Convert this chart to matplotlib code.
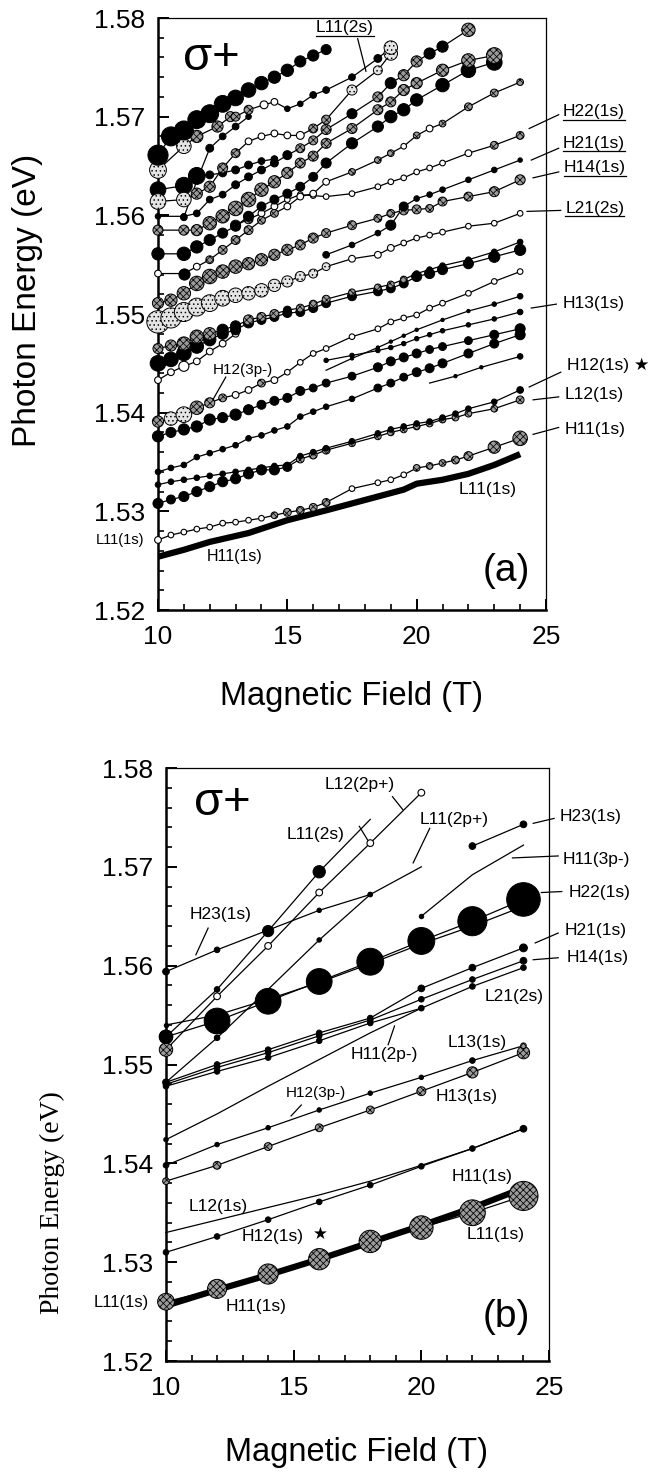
import matplotlib
matplotlib.use("Agg")
import matplotlib.pyplot as plt
from matplotlib.lines import Line2D
from matplotlib.ticker import MultipleLocator, FormatStrFormatter
from matplotlib.transforms import IdentityTransform

plt.rcParams['font.family'] = ['Liberation Sans', 'DejaVu Sans']
plt.rcParams['hatch.linewidth'] = 0.55
plt.rcParams['hatch.color'] = 'black'

# ---------------- panel (a) data ----------------
# marker kinds: k = black, h = cross-hatched, d = light dotted, o = open
xa25 = [10, 10.5, 11, 11.5, 12, 12.5, 13, 13.5, 14, 14.5, 15, 15.5, 16, 16.5,
        17.5, 18.5, 19, 19.5, 20, 20.5, 21, 21.5, 22, 23, 24]
xa24 = [10, 10.5, 11, 11.5, 12, 12.5, 13, 13.5, 14, 14.5, 15, 15.5, 16, 16.5,
        17.5, 18.5, 19, 19.5, 20, 20.5, 21, 22, 23, 24]
xa21 = [10, 11, 11.5, 12, 12.5, 13, 13.5, 14, 14.5, 15, 15.5, 16, 16.5, 17.5,
        18.5, 19, 19.5, 20, 21, 22, 23]

a1_x = [10, 10.5, 11, 11.5, 12, 12.5, 13, 13.5, 14, 14.5, 15, 15.5, 16, 16.5]
a1_y = [1.5661, 1.5680, 1.5686, 1.5697, 1.5703, 1.5713, 1.5719, 1.5727, 1.5734, 1.5740, 1.5747, 1.5756, 1.5762, 1.5768]
a1_d = [18, 17, 17, 16, 16, 15, 14, 13, 12, 11, 11, 10, 10, 9]
a1_k = "kkkkkkkkkkkkkk"

a2_x = [10, 11, 11.5, 12.3, 12.8, 13, 13.5, 14.1, 14.5, 15, 15.5, 16, 16.5, 17.5, 18.5, 19]
a2_y = [1.5646, 1.5670, 1.5680, 1.5690, 1.5700, 1.5700, 1.5707, 1.5712, 1.5715, 1.5708, 1.5713, 1.5722, 1.5727, 1.5740, 1.5759, 1.5770]
a2_d = [15, 13, 11, 10, 9, 8, 8, 7, 6, 5, 5, 6, 6, 6, 7, 12]
a2_k = "ddhhhhhookkkkkkd"

a3_x = [10, 11, 11.5, 12, 12.5, 13, 13.5, 14, 14.5, 15, 15.5, 16, 16.5, 17.5, 18.5, 19]
a3_y = [1.5614, 1.5616, 1.5622, 1.5629, 1.5648, 1.5663, 1.5675, 1.5680, 1.5683, 1.5681, 1.5681, 1.5688, 1.5697, 1.5727, 1.5747, 1.5764]
a3_d = [14, 13, 10, 10, 9, 8, 6, 6, 6, 6, 7, 8, 8, 9, 8, 12]
a3_k = "ddhhhhooooohhddd"

a4_x = [10, 11, 11.5, 12, 12.5, 13, 13.5, 14, 14.5]
a4_y = [1.5626, 1.5630, 1.5640, 1.5641, 1.5643, 1.5646, 1.5651, 1.5655, 1.5657]
a4_d = [14, 15, 15, 7, 7, 7, 7, 6, 6]
a4_k = "kkkkkkkkk"

a5_x = [11, 11.5, 12, 12.5, 13, 13.5]
a5_y = [1.5598, 1.5635, 1.5668, 1.5680, 1.5690, 1.5700]
a5_d = [6, 6, 7, 6, 6, 5]
a5_k = "kkkkkk"

a6_x = [10, 11, 11.5, 12, 12.5, 13, 13.5, 14, 14.5, 15, 15.5, 16, 16.5, 17.5, 18.5, 19, 19.5, 20, 20.5, 21, 22]
a6_y = [1.5599, 1.5599, 1.5602, 1.5616, 1.5621, 1.5631, 1.5639, 1.5646, 1.5653, 1.5661, 1.5668, 1.5676, 1.5687,
        1.5703, 1.5720, 1.5734, 1.5742, 1.5756, 1.5764, 1.5771, 1.5788]
a6_d = [5, 5, 6, 6, 6, 7, 7, 7, 7, 8, 8, 8, 9, 9, 9, 10, 10, 10, 10, 10, 12]
a6_k = "kkkkkkkkkkhhhkhkhhkkh"

a7_y = [1.5585, 1.5585, 1.5585, 1.5592, 1.5599, 1.5607, 1.5616, 1.5626, 1.5634, 1.5643, 1.5653, 1.5660, 1.5673,
        1.5688, 1.5707, 1.5715, 1.5727, 1.5734, 1.5747, 1.5757, 1.5762]
a7_d = [9, 9, 10, 12, 12, 13, 13, 12, 11, 10, 9, 9, 9, 9, 9, 9, 10, 10, 11, 12, 14]
a7_k = "hhhhhhhhhhhhhhhhhhhhh"

a8_y = [1.5561, 1.5561, 1.5568, 1.5575, 1.5582, 1.5589, 1.5599, 1.5609, 1.5616, 1.5622, 1.5629, 1.5639, 1.5653,
        1.5673, 1.5690, 1.5700, 1.5707, 1.5717, 1.5732, 1.5747, 1.5755]
a8_d = [11, 12, 11, 10, 9, 9, 9, 8, 8, 8, 8, 8, 9, 10, 10, 11, 11, 11, 12, 13, 14]
a8_k = "kkkkkkkkkkkkkkkkkkkkk"

a9_x = [10, 11, 11.5, 12, 12.5, 13, 13.5, 14, 14.5, 15, 15.5, 16, 16.5, 17.5, 18.5, 19, 19.5, 20, 20.5, 21, 22, 23, 24]
a9_y = [1.5541, 1.5541, 1.5548, 1.5555, 1.5565, 1.5575, 1.5585, 1.5595, 1.5602, 1.5609, 1.5619, 1.5622, 1.5634,
        1.5644, 1.5656, 1.5663, 1.5670, 1.5681, 1.5688, 1.5693, 1.5710, 1.5724, 1.5735]
a9_d = [6, 10, 6, 7, 8, 8, 8, 7, 7, 6, 6, 6, 6, 6, 6, 6, 5, 6, 6, 6, 7, 7, 6]
a9_k = "okohhhhhhoooohhhohohhhh"

a10_x = [13, 13.5, 14, 14.5, 15, 15.5, 16, 16.5, 17.5, 18.5, 19, 19.5, 20, 20.5, 21, 22, 23, 24]
a10_y = [1.5590, 1.5596, 1.5602, 1.5609, 1.5616, 1.5621, 1.5620, 1.5619, 1.5622, 1.5629, 1.5634, 1.5638, 1.5644,
         1.5648, 1.5653, 1.5663, 1.5671, 1.5681]
a10_d = [9, 8, 6, 6, 5, 5, 5, 5, 5, 5, 5, 5, 5, 5, 5, 6, 7, 7]
a10_k = "hhoooooooooooooohh"

a11_x = [16.5, 17.5, 18.5, 19, 19.5, 20, 20.5, 21, 22, 23, 24]
a11_y = [1.5560, 1.5570, 1.5582, 1.5590, 1.5609, 1.5617, 1.5621, 1.5626, 1.5636, 1.5646, 1.5656]
a11_d = [6, 5, 5, 9, 8, 5, 5, 5, 5, 5, 4]
a11_k = "kkkkkkkkkkk"

a12_y = [1.5511, 1.5514, 1.5521, 1.5531, 1.5538, 1.5543, 1.5548, 1.5551, 1.5555, 1.5560, 1.5565, 1.5570, 1.5577,
         1.5582, 1.5590, 1.5597, 1.5602, 1.5605, 1.5606, 1.5607, 1.5614, 1.5619, 1.5624, 1.5636]
a12_d = [10, 11, 12, 13, 13, 12, 12, 11, 11, 10, 10, 9, 9, 8, 8, 7, 7, 8, 8, 7, 8, 8, 9, 9]
a12_k = "hhhhhhhhhhhhhhhhhhhhhhhh"

a13_y = [1.5492, 1.5496, 1.5502, 1.5507, 1.5511, 1.5516, 1.5519, 1.5521, 1.5524, 1.5529, 1.5533, 1.5538, 1.5541,
         1.5548, 1.5556, 1.5560, 1.5567, 1.5572, 1.5577, 1.5580, 1.5583, 1.5589, 1.5592, 1.5602]
a13_d = [20, 18, 17, 16, 15, 14, 13, 12, 12, 11, 10, 9, 8, 7, 6, 6, 6, 5, 5, 5, 5, 5, 5, 5]
a13_k = "ddddddddddddddoooooooooo"

a14_y = [1.5465, 1.5468, 1.5470, 1.5477, 1.5480, 1.5484, 1.5488, 1.5494, 1.5497, 1.5500, 1.5504, 1.5506, 1.5510,
         1.5515, 1.5522, 1.5527, 1.5530, 1.5535, 1.5541, 1.5545, 1.5549, 1.5555, 1.5563, 1.5573]
a14_d = [9, 10, 12, 12, 11, 10, 9, 9, 8, 8, 7, 7, 7, 7, 6, 6, 6, 6, 5, 5, 5, 5, 5, 5]
a14_k = "hhhhhkkhhhkhhhhhhhkkkkkk"

a15_y = [1.5450, 1.5454, 1.5460, 1.5467, 1.5474, 1.5480, 1.5484, 1.5491, 1.5494, 1.5497, 1.5501, 1.5502, 1.5506,
         1.5511, 1.5518, 1.5523, 1.5526, 1.5531, 1.5538, 1.5541, 1.5545, 1.5551, 1.5558, 1.5565]
a15_d = [14, 13, 13, 12, 11, 10, 9, 9, 8, 8, 8, 8, 8, 8, 8, 8, 8, 8, 9, 9, 9, 9, 10, 10]
a15_k = "kkkkkkkkkkkkkkkkkkkkkkkk"

a16_x = [10, 10.5, 11, 11.5, 12, 12.5, 13]
a16_y = [1.5433, 1.5441, 1.5447, 1.5452, 1.5462, 1.5470, 1.5480]
a16_d = [6, 6, 9, 6, 6, 6, 6]
a16_k = "ooooooo"

a17_y = [1.5391, 1.5394, 1.5398, 1.5405, 1.5410, 1.5415, 1.5418, 1.5423, 1.5430, 1.5433, 1.5441, 1.5451, 1.5460,
         1.5465, 1.5477, 1.5485, 1.5492, 1.5496, 1.5499, 1.5506, 1.5511, 1.5521, 1.5533, 1.5543]
a17_d = [10, 12, 14, 12, 9, 7, 6, 6, 7, 6, 5, 5, 5, 5, 5, 5, 5, 5, 5, 5, 5, 5, 5, 5]
a17_k = "hddhhhoohooooooooooooooo"

a18_y = [1.5376, 1.5380, 1.5383, 1.5386, 1.5393, 1.5395, 1.5398, 1.5403, 1.5408, 1.5412, 1.5415, 1.5422, 1.5425,
         1.5430, 1.5437, 1.5446, 1.5452, 1.5456, 1.5460, 1.5464, 1.5467, 1.5473, 1.5479, 1.5485]
a18_d = [10, 9, 10, 10, 10, 9, 10, 9, 8, 8, 8, 8, 7, 7, 7, 8, 8, 8, 8, 7, 7, 7, 8, 9]
a18_k = "kkkkkkkkkkkkkkkkkkkkkkkk"

a19_y = [1.5340, 1.5344, 1.5347, 1.5355, 1.5359, 1.5363, 1.5367, 1.5374, 1.5377, 1.5382, 1.5386, 1.5396, 1.5401,
         1.5406, 1.5414, 1.5425, 1.5430, 1.5436, 1.5441, 1.5445, 1.5450, 1.5460, 1.5470, 1.5479]
a19_d = [5, 5, 5, 5, 5, 5, 5, 5, 5, 5, 5, 5, 5, 5, 5, 7, 7, 7, 8, 8, 8, 8, 8, 9]
a19_k = "kkkkkkkkkkkkkkkkkkkkkkkk"

a20_y = [1.5327, 1.5330, 1.5332, 1.5334, 1.5336, 1.5338, 1.5340, 1.5342, 1.5344, 1.5346, 1.5347, 1.5356, 1.5360,
         1.5364, 1.5371, 1.5379, 1.5383, 1.5386, 1.5389, 1.5391, 1.5395, 1.5399, 1.5404, 1.5411, 1.5423]
a20_d = [5, 5, 5, 5, 5, 5, 5, 5, 5, 5, 5, 5, 5, 5, 5, 5, 5, 5, 5, 5, 5, 5, 5, 5, 6]
a20_k = "kkkkkkkkkkkkkkkkkkkkkkkkk"

a21_y = [1.5308, 1.5312, 1.5315, 1.5320, 1.5325, 1.5330, 1.5333, 1.5338, 1.5342, 1.5342, 1.5345, 1.5353, 1.5357,
         1.5362, 1.5369, 1.5376, 1.5380, 1.5383, 1.5386, 1.5389, 1.5393, 1.5395, 1.5399, 1.5404, 1.5413]
a21_d = [9, 8, 9, 9, 9, 9, 9, 9, 9, 9, 8, 7, 7, 7, 6, 6, 6, 6, 6, 6, 6, 6, 6, 6, 7]
a21_k = "kkkkkkkkkkkhhhhhhhhhhhhhh"

a22_y = [1.5271, 1.5276, 1.5279, 1.5282, 1.5284, 1.5288, 1.5289, 1.5291, 1.5293, 1.5296, 1.5299, 1.5301, 1.5304,
         1.5309, 1.5323, 1.5329, 1.5332, 1.5337, 1.5344, 1.5346, 1.5349, 1.5352, 1.5356, 1.5365, 1.5374]
a22_d = [6, 5, 5, 5, 5, 5, 5, 5, 5, 6, 7, 7, 7, 7, 5, 5, 5, 5, 6, 6, 6, 7, 8, 11, 13]
a22_k = "ooooooooohhhhhoooohhhhhhh"

a23_x = [16.5, 17.5, 18.5, 19, 19.5, 20, 21, 22, 23, 24]
a23_y = [1.5443, 1.5455, 1.5466, 1.5472, 1.5478, 1.5484, 1.5494, 1.5503, 1.5510, 1.5518]
a23_d = [0, 3, 3, 3, 3, 3, 3, 3, 4, 5]
a23_k = "kkkkkkkkkk"

a24_x = [16.5, 17.5, 18.5, 19, 19.5, 20, 20.5, 21, 22, 23, 24]
a24_y = [1.5453, 1.5458, 1.5463, 1.5466, 1.5470, 1.5475, 1.5479, 1.5483, 1.5489, 1.5495, 1.5502]
a24_d = [4, 4, 4, 4, 4, 4, 4, 4, 4, 4, 5]
a24_k = "kkkkkkkkkkk"

a25_x = [20.5, 21.5, 22.5, 24]
a25_y = [1.5430, 1.5437, 1.5446, 1.5457]
a25_d = [0, 3, 3, 5]
a25_k = "kkkk"

# thick L11(1s) line
a_thick_x = [10, 11, 12, 13.5, 15, 16.5, 18.5, 19.5, 20, 21, 22, 23, 24]
a_thick_y = [1.5254, 1.5261, 1.5269, 1.5278, 1.5291, 1.5301, 1.5315, 1.5322, 1.5328, 1.5332, 1.5338, 1.5347, 1.5358]

# ---------------- panel (b) data ----------------
xb8 = [10, 12, 14, 16, 18, 20, 22, 24]

b_h23lo_x = [10, 12, 14, 16, 18]
b_h23lo_y = [1.5594, 1.5616, 1.5636, 1.5656, 1.5672]
b_h23lo_d = [6, 5, 0, 4, 4]

b_l112s_x = [10, 12, 14, 16, 18]
b_l112s_y = [1.5528, 1.5576, 1.5635, 1.5695, 1.5748]
b_l112s_d = [12, 5, 10, 11, 0]

b_l122p_x = [10, 12, 14, 16, 18, 20]
b_l122p_y = [1.5515, 1.5569, 1.5620, 1.5674, 1.5724, 1.5775]
b_l122p_d = [12, 6, 6, 6, 6, 6]

b_l112p_x = [10, 12, 14, 16, 18, 20]
b_l112p_y = [1.5482, 1.5527, 1.5576, 1.5626, 1.5672, 1.5700]
b_l112p_d = [0, 5, 0, 4, 4, 0]

b_h113p_x = [20, 22, 24]
b_h113p_y = [1.5650, 1.5692, 1.5722]
b_h113p_d = [4, 0, 0]

b_h23hi_x = [22, 24]
b_h23hi_y = [1.5721, 1.5743]
b_h23hi_d = [6, 6]

b_h22_y = [1.5528, 1.5544, 1.5564, 1.5584, 1.5604, 1.5625, 1.5645, 1.5667]
b_h22_d = [12, 23, 23, 23, 24, 24, 26, 30]
b_h22b_y = [1.5540, 1.5550, 1.5566, 1.5583, 1.5602, 1.5622, 1.5640, 1.5660]

b_h21_y = [1.5482, 1.5500, 1.5515, 1.5532, 1.5547, 1.5577, 1.5598, 1.5618]
b_h21_d = [6, 5, 5, 5, 5, 6, 6, 7]
b_h14_y = [1.5480, 1.5497, 1.5512, 1.5529, 1.5545, 1.5566, 1.5586, 1.5605]
b_h14_d = [5, 5, 5, 5, 5, 5, 5, 6]
b_l21_y = [1.5478, 1.5493, 1.5507, 1.5524, 1.5542, 1.5557, 1.5579, 1.5598]
b_l21_d = [5, 5, 5, 5, 5, 5, 5, 5]

b_h112p_x = [10, 12, 14, 16, 18, 20]
b_h112p_y = [1.5424, 1.5450, 1.5478, 1.5505, 1.5532, 1.5557]
b_h112p_d = [4, 0, 0, 0, 0, 4]

b_h123p_y = [1.5398, 1.5419, 1.5436, 1.5454, 1.5471, 1.5487, 1.5504, 1.5519]
b_h123p_d = [5, 4, 4, 4, 4, 4, 5, 5]
b_h13_y = [1.5382, 1.5398, 1.5417, 1.5436, 1.5454, 1.5473, 1.5492, 1.5512]
b_h13_d = [6, 7, 7, 7, 7, 8, 10, 11]

b_l121s_x = [10, 16, 18, 20, 22, 24]
b_l121s_y = [1.5330, 1.5368, 1.5382, 1.5398, 1.5415, 1.5435]
b_l121s_d = [0, 0, 0, 0, 0, 0]
b_h121s_y = [1.5310, 1.5326, 1.5343, 1.5361, 1.5378, 1.5397, 1.5415, 1.5435]
b_h121s_d = [5, 5, 5, 5, 5, 5, 5, 6]

b_h111s_y = [1.5260, 1.5273, 1.5288, 1.5303, 1.5321, 1.5335, 1.5350, 1.5367]
b_h111s_d = [15, 17, 18, 19, 20, 21, 23, 26]
b_thick_y = [1.5256, 1.5272, 1.5287, 1.5303, 1.5320, 1.5337, 1.5355, 1.5375]

# ---------------- annotations ----------------
# (text, x, y, ha, fontsize, underline)
a_labels = [
    ("L11(2s)", 17.23, 1.5790, "center", 12.5, True),
    ("H22(1s)", 25.65, 1.5705, "left", 12.5, True),
    ("H21(1s)", 25.65, 1.5673, "left", 12.5, True),
    ("H14(1s)", 25.68, 1.5648, "left", 12.5, True),
    ("L21(2s)", 25.75, 1.5607, "left", 12.5, True),
    ("H13(1s)", 25.65, 1.5511, "left", 12.5, False),
    ("H12(1s) \u2605", 25.8, 1.5448, "left", 12.5, False),
    ("L12(1s)", 25.73, 1.5418, "left", 12.5, False),
    ("H11(1s)", 25.73, 1.5383, "left", 12.5, False),
    ("L11(1s)", 22.73, 1.5322, "center", 12.5, False),
    ("H12(3p-)", 13.27, 1.5443, "center", 11, False),
    ("L11(1s)", 8.55, 1.5271, "center", 10.5, False),
    ("H11(1s)", 12.95, 1.5254, "center", 11.5, False),
]
a_pointers = [
    (17.72, 1.5779, 18.04, 1.5746),
    (25.49, 1.5702, 24.35, 1.5688),
    (25.49, 1.5668, 24.43, 1.5656),
    (25.49, 1.5644, 24.50, 1.5638),
    (25.57, 1.5605, 24.27, 1.5604),
    (25.40, 1.5510, 24.43, 1.5506),
    (25.57, 1.5441, 24.35, 1.5426),
    (25.49, 1.5416, 24.50, 1.5413),
    (25.49, 1.5385, 24.50, 1.5378),
    (12.62, 1.5436, 12.14, 1.5414),
]
b_labels = [
    ("L12(2p+)", 17.57, 1.5783, "center", 12.5, False),
    ("L11(2s)", 15.87, 1.5733, "center", 12.5, False),
    ("L11(2p+)", 21.3, 1.5748, "center", 12.5, False),
    ("H23(1s)", 25.4, 1.5751, "left", 12.5, False),
    ("H11(3p-)", 25.55, 1.5707, "left", 12.5, False),
    ("H22(1s)", 25.78, 1.5674, "left", 12.5, False),
    ("H21(1s)", 25.62, 1.5636, "left", 12.5, False),
    ("H14(1s)", 25.7, 1.5608, "left", 12.5, False),
    ("L21(2s)", 23.65, 1.5569, "center", 12.5, False),
    ("H23(1s)", 12.14, 1.5652, "center", 12.5, False),
    ("L13(1s)", 22.2, 1.5522, "center", 12.5, False),
    ("H11(2p-)", 18.55, 1.5510, "center", 12.5, False),
    ("H12(3p-)", 15.87, 1.5471, "center", 11, False),
    ("H13(1s)", 21.79, 1.5468, "center", 12.5, False),
    ("L12(1s)", 12.06, 1.5356, "center", 12.5, False),
    ("H12(1s)", 14.17, 1.5326, "center", 12.5, False),
    ("\u2605", 16.03, 1.5328, "center", 12, False),
    ("H11(1s)", 22.36, 1.5387, "center", 12.5, False),
    ("L11(1s)", 22.92, 1.5328, "center", 12.5, False),
    ("L11(1s)", 8.25, 1.5259, "center", 12, False),
    ("H11(1s)", 13.52, 1.5255, "center", 12.5, False),
]
b_pointers = [
    (18.87, 1.5771, 19.27, 1.5758),
    (17.57, 1.5741, 17.90, 1.5727),
    (20.33, 1.5739, 19.68, 1.5704),
    (25.20, 1.5749, 24.38, 1.5744),
    (25.36, 1.5711, 23.57, 1.5709),
    (25.50, 1.5675, 24.70, 1.5674),
    (25.36, 1.5633, 24.46, 1.5623),
    (25.36, 1.5608, 24.38, 1.5606),
    (11.65, 1.5638, 11.17, 1.5611),
    (18.70, 1.5520, 18.95, 1.5539),
    (15.30, 1.5459, 14.90, 1.5448),
]

MARK = {
    'k': dict(facecolors='black', edgecolors='black', linewidths=0.7),
    'h': dict(facecolors='#9a9a9a', edgecolors='black', linewidths=0.7, hatch='xxxxx'),
    'd': dict(facecolors='#e4e4e4', edgecolors='black', linewidths=0.7, hatch='....'),
    'o': dict(facecolors='white', edgecolors='black', linewidths=0.8),
}
SIZE_PT = 0.72 * 1.12   # marker diameter px -> points


def draw_series(ax, x, y, d, kinds, lw=0.9):
    ax.plot(x, y, color='black', lw=lw, zorder=2, clip_on=False)
    for k in 'dhok':
        idx = [i for i, c in enumerate(kinds) if c == k and d[i] > 0]
        if not idx:
            continue
        ax.scatter([x[i] for i in idx], [y[i] for i in idx],
                   s=[(d[i] * SIZE_PT) ** 2 for i in idx], zorder=3, clip_on=False, **MARK[k])


def setup(ax):
    ax.set_xlim(10, 25)
    ax.set_ylim(1.52, 1.58)
    ax.xaxis.set_major_locator(MultipleLocator(5))
    ax.xaxis.set_minor_locator(MultipleLocator(1))
    ax.yaxis.set_major_locator(MultipleLocator(0.01))
    ax.yaxis.set_minor_locator(MultipleLocator(0.002))
    ax.yaxis.set_major_formatter(FormatStrFormatter('%.2f'))
    ax.tick_params(which='both', direction='in', top=False, right=False, labelsize=19)
    ax.tick_params(which='major', length=8, width=1.4)
    ax.tick_params(which='minor', length=4.5, width=1.2)
    ax.tick_params(axis='x', pad=11)
    ax.tick_params(axis='y', pad=9)
    for side in ['left', 'bottom']:
        ax.spines[side].set_linewidth(1.8)
    for side in ['top', 'right']:
        ax.spines[side].set_linewidth(0.9)


def put_labels(ax, labels, pointers):
    texts = []
    for txt, x, y, ha, fs, ul in labels:
        t = ax.text(x, y, txt, ha=ha, va='center', fontsize=fs, clip_on=False, zorder=5)
        if ul:
            texts.append(t)
    for x0, y0, x1, y1 in pointers:
        ax.plot([x0, x1], [y0, y1], color='black', lw=0.9, clip_on=False, zorder=4)
    return texts


fig = plt.figure(figsize=(6.54, 14.72), dpi=100)
ax1 = fig.add_axes([158 / 654, 1 - 610 / 1472, 388 / 654, 592 / 1472])
ax2 = fig.add_axes([166 / 654, 1 - 1361 / 1472, 383 / 654, 593 / 1472])

# ---- panel (a) ----
setup(ax1)
ax1.plot(a_thick_x, a_thick_y, color='black', lw=4.5, zorder=2, solid_capstyle='butt')
series_a = [
    (xa25, a22_y, a22_d, a22_k),
    (xa25, a21_y, a21_d, a21_k),
    (xa25, a20_y, a20_d, a20_k),
    (xa24, a19_y, a19_d, a19_k),
    (xa24, a18_y, a18_d, a18_k),
    (a25_x, a25_y, a25_d, a25_k),
    (a23_x, a23_y, a23_d, a23_k),
    (a24_x, a24_y, a24_d, a24_k),
    (xa24, a17_y, a17_d, a17_k),
    (a16_x, a16_y, a16_d, a16_k),
    (xa24, a15_y, a15_d, a15_k),
    (xa24, a14_y, a14_d, a14_k),
    (xa24, a13_y, a13_d, a13_k),
    (xa24, a12_y, a12_d, a12_k),
    (a11_x, a11_y, a11_d, a11_k),
    (a10_x, a10_y, a10_d, a10_k),
    (a9_x, a9_y, a9_d, a9_k),
    (xa21, a8_y, a8_d, a8_k),
    (xa21, a7_y, a7_d, a7_k),
    (a6_x, a6_y, a6_d, a6_k),
    (a5_x, a5_y, a5_d, a5_k),
    (a4_x, a4_y, a4_d, a4_k),
    (a3_x, a3_y, a3_d, a3_k),
    (a2_x, a2_y, a2_d, a2_k),
    (a1_x, a1_y, a1_d, a1_k),
]
for x, y, d, k in series_a:
    draw_series(ax1, x, y, d, k)
ul_texts = put_labels(ax1, a_labels, a_pointers)
ax1.text(12.05, 1.5759, "\u03c3+", fontsize=34, ha='center', va='center')
ax1.text(23.46, 1.5240, "(a)", fontsize=28, ha='center', va='center')

# ---- panel (b) ----
setup(ax2)
ax2.plot(xb8, b_thick_y, color='black', lw=4.5, zorder=2, solid_capstyle='butt')
draw_series(ax2, xb8, b_h111s_y, b_h111s_d, "hhhhhhhh")
draw_series(ax2, xb8, b_h121s_y, b_h121s_d, "kkkkkkkk")
draw_series(ax2, b_l121s_x, b_l121s_y, b_l121s_d, "kkkkkk")
draw_series(ax2, xb8, b_h13_y, b_h13_d, "hhhhhhhh")
draw_series(ax2, xb8, b_h123p_y, b_h123p_d, "kkkkkkkh")
draw_series(ax2, b_h112p_x, b_h112p_y, b_h112p_d, "kkkkkk")
draw_series(ax2, xb8, b_l21_y, b_l21_d, "kkkkkkkk")
draw_series(ax2, xb8, b_h14_y, b_h14_d, "kkkkkkkk")
draw_series(ax2, xb8, b_h21_y, b_h21_d, "kkkkkkkk")
draw_series(ax2, xb8, b_h22b_y, [4, 0, 0, 0, 0, 0, 0, 0], "kkkkkkkk")
draw_series(ax2, xb8, b_h22_y, b_h22_d, "kkkkkkkk")
draw_series(ax2, b_h23hi_x, b_h23hi_y, b_h23hi_d, "kk")
draw_series(ax2, b_h113p_x, b_h113p_y, b_h113p_d, "kkk")
draw_series(ax2, b_l112p_x, b_l112p_y, b_l112p_d, "kkkkkk")
draw_series(ax2, b_h23lo_x, b_h23lo_y, b_h23lo_d, "kkkkk")
draw_series(ax2, b_l122p_x, b_l122p_y, b_l122p_d, "hooooo")
draw_series(ax2, b_l112s_x, b_l112s_y, b_l112s_d, "kkkkk")
put_labels(ax2, b_labels, b_pointers)
ax2.text(12.22, 1.5765, "\u03c3+", fontsize=34, ha='center', va='center')
ax2.text(23.33, 1.5245, "(b)", fontsize=28, ha='center', va='center')

# axis titles
fig.text(352 / 654, 1 - 697 / 1472, "Magnetic Field (T)", fontsize=23.5, ha='center', va='center')
fig.text(357 / 654, 1 - 1453 / 1472, "Magnetic Field (T)", fontsize=23.5, ha='center', va='center')
fig.text(28 / 654, 1 - 300 / 1472, "Photon Energy (eV)", fontsize=24, rotation=90, ha='center', va='center')
fig.text(52 / 654, 1 - 1203 / 1472, "Photon Energy (eV)", fontsize=20, rotation=90,
         ha='center', va='center', family=['Liberation Serif', 'DejaVu Serif'])

# underline the labelled transitions of panel (a)
fig.canvas.draw()
for t in ul_texts:
    bb = t.get_window_extent()
    fig.add_artist(Line2D([bb.x0, bb.x1], [bb.y0 - 0.5, bb.y0 - 0.5], color='black', lw=0.9,
                          transform=IdentityTransform()))

fig.savefig("out.png", dpi=100)
